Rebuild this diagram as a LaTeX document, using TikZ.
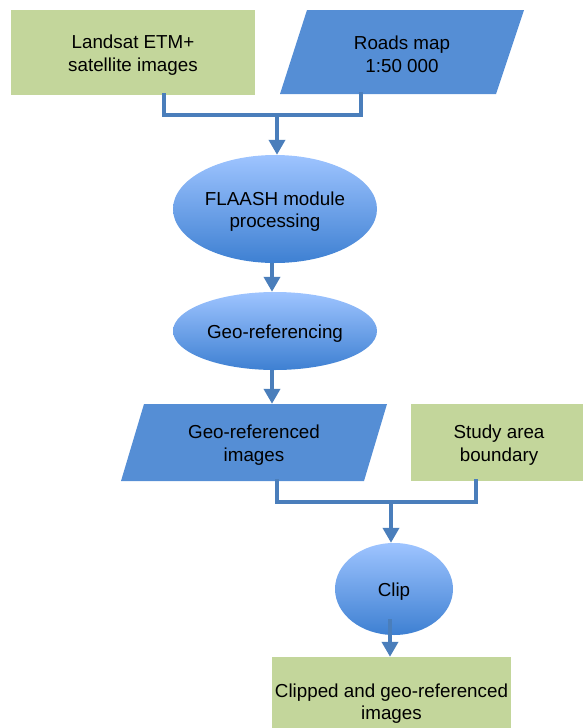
\documentclass[tikz,border=0pt]{standalone}
\usepackage{fontspec}
\setmainfont{Liberation Sans}
\usetikzlibrary{shapes.geometric,arrows.meta}

\definecolor{boxgreen}{RGB}{195,214,155}
\definecolor{datablue}{RGB}{85,142,213}
\definecolor{linkblue}{RGB}{74,126,187}
\definecolor{proctop}{RGB}{158,196,255}
\definecolor{procbot}{RGB}{62,128,210}

\tikzset{
  lbl/.style={font=\fontsize{18.8}{22.5}\selectfont, align=center, text=black, inner sep=0pt},
  inbox/.style={rectangle, fill=boxgreen, inner sep=0pt, minimum width=#1},
  procell/.style={ellipse, inner sep=0pt, top color=proctop, bottom color=procbot, shading=axis},
  datatext/.style={rectangle, inner sep=0pt},
  datashape/.style={fill=datablue},
  conn/.style={draw=linkblue, line width=4pt, line join=miter, line cap=rect},
  arrow/.style={draw=linkblue, line width=4pt, -{Triangle[width=16pt,length=15pt]}},
  txt/.style={lbl, yshift=-2.5pt},
}

\begin{document}
\begin{tikzpicture}[x=1pt, y=-1pt]
  \useasboundingbox (0,0) rectangle (582,728);

  % inputs
  \node[inbox=244pt, minimum height=85pt] (landsat) at (133,52.5) {};
  \fill[datashape] (307,10) -- (524,10) -- (496,94) -- (280,94) -- cycle;
  \node[datatext, minimum width=200pt, minimum height=84pt] (roads) at (402,52) {};

  % processing steps
  \node[procell, minimum width=204pt, minimum height=108pt] (flaash) at (275,209) {};
  \node[procell, minimum width=204pt, minimum height=78pt] (georef) at (275,331) {};

  % intermediate data and boundary
  \fill[datashape] (144,404) -- (387,404) -- (364,481) -- (121,481) -- cycle;
  \node[datatext, minimum width=220pt, minimum height=77pt] (gimg) at (254,442.5) {};
  \node[inbox=176pt, minimum height=77pt] (study) at (499,442.5) {};

  % clipping and result
  \node[procell, minimum width=118pt, minimum height=92pt] (clip) at (394,589) {};
  \node[inbox=239pt, minimum height=88pt] (result) at (391.5,701) {};

  % merge of the two inputs
  \coordinate (lb) at ([xshift=31pt]landsat.south);
  \coordinate (rb) at ([xshift=-41pt]roads.south);
  \coordinate (j1) at (277,114.5);
  \draw[conn] (lb) |- (j1) -| (rb);
  \draw[arrow] (j1) -- (j1 |- flaash.north);

  % chain of steps
  \draw[arrow] ([xshift=-3pt]flaash.south) -- ([xshift=-3pt]georef.north);
  \draw[arrow] ([xshift=-3pt]georef.south) coordinate (a2) -- (a2 |- gimg.north);

  % merge of image and boundary
  \coordinate (gb) at ([xshift=23pt]gimg.south);
  \coordinate (sb) at ([xshift=-23pt]study.south);
  \coordinate (j2) at (391,502);
  \draw[conn] (gb) |- (j2) -| (sb);
  \draw[arrow] (j2) -- (j2 |- clip.north);

  % clip to result
  \draw[arrow] ([xshift=-4pt,yshift=16pt]clip.south) coordinate (a3) -- (a3 |- result.north);

  % labels
  \node[txt] (landsat-t) at (landsat.center) {Landsat ETM+\\satellite images};
  \node[txt] (roads-t)   at (roads.center)   {Roads map\\1:50 000};
  \node[txt] (flaash-t)  at (flaash.center)  {FLAASH module\\processing};
  \node[txt] (georef-t)  at (georef.center)  {Geo-referencing};
  \node[txt] (gimg-t)    at (gimg.center)    {Geo-referenced\\images};
  \node[txt] (study-t)   at (study.center)   {Study area\\boundary};
  \node[txt] (clip-t)    at (clip.center)    {Clip};
  \node[txt] (result-t)  at (result.center)  {Clipped and geo-referenced\\images};
\end{tikzpicture}
\end{document}
